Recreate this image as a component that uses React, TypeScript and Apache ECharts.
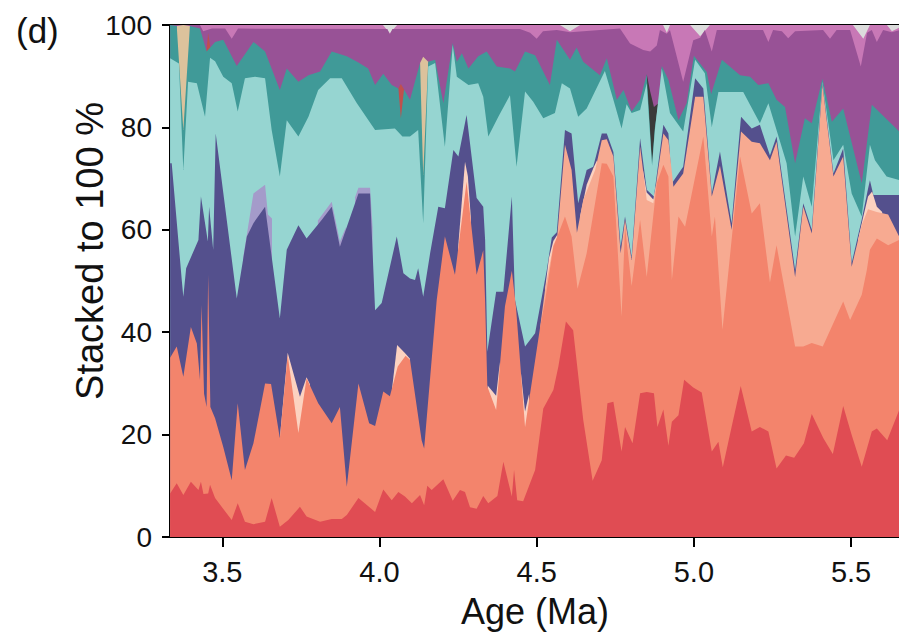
import React, { useEffect, useRef } from "react";
import * as echarts from "echarts";

const AGE_MIN = 3.3336;
const AGE_MAX = 5.6525;
const xTicks = [3.5, 4.0, 4.5, 5.0, 5.5];
const FONT = "Liberation Sans, Arial, Helvetica, sans-serif";

// Cumulative tops (percent) of each stacked layer: [age (Ma), %]
const redTop = [[3.334,8.5],[3.355,10.5],[3.376,8.2],[3.400,10.8],[3.424,9.2],[3.432,10.8],[3.440,8.4],[3.455,8.5],[3.461,10.2],[3.477,7.6],[3.530,3.3],[3.549,6.6],[3.572,3.0],[3.599,2.5],[3.636,3.0],[3.657,7.6],[3.683,2.0],[3.710,3.3],[3.747,5.9],[3.768,4.0],[3.811,3.0],[3.848,3.5],[3.880,3.5],[3.896,4.3],[3.933,7.6],[3.986,4.9],[4.012,9.3],[4.039,7.2],[4.060,8.8],[4.081,7.9],[4.103,6.6],[4.129,8.2],[4.142,6.2],[4.152,10.0],[4.166,9.2],[4.203,11.3],[4.233,7.1],[4.256,9.2],[4.272,8.8],[4.288,5.8],[4.309,5.5],[4.330,8.0],[4.346,6.6],[4.375,8.0],[4.394,14.7],[4.421,7.9],[4.428,13.1],[4.438,7.2],[4.457,7.0],[4.495,13.1],[4.521,25.1],[4.553,28.7],[4.569,33.3],[4.593,42.1],[4.616,40.4],[4.648,22.9],[4.678,11.0],[4.707,15.0],[4.725,26.1],[4.744,26.4],[4.770,16.7],[4.781,21.5],[4.805,18.3],[4.829,28.1],[4.850,28.3],[4.873,28.1],[4.884,21.5],[4.903,24.9],[4.919,17.8],[4.930,22.5],[4.951,23.8],[4.969,30.7],[4.998,29.2],[5.025,28.2],[5.057,16.7],[5.078,18.6],[5.092,13.6],[5.120,21.5],[5.149,29.5],[5.184,20.6],[5.210,21.5],[5.237,20.6],[5.263,13.4],[5.293,15.9],[5.319,15.5],[5.350,18.3],[5.375,24.0],[5.412,19.3],[5.442,16.2],[5.475,25.6],[5.502,19.9],[5.534,13.7],[5.566,20.6],[5.582,21.2],[5.615,18.9],[5.653,24.8]];

const salmonTop = [[3.334,35.0],[3.355,37.2],[3.376,31.3],[3.400,41.0],[3.419,37.8],[3.429,30.7],[3.434,45.3],[3.442,28.0],[3.450,25.4],[3.455,51.2],[3.462,25.4],[3.477,23.2],[3.503,17.6],[3.530,11.1],[3.549,26.1],[3.572,13.1],[3.599,18.3],[3.636,30.0],[3.655,29.9],[3.683,19.3],[3.708,35.5],[3.742,20.3],[3.768,31.0],[3.805,26.1],[3.848,22.2],[3.874,25.4],[3.896,9.8],[3.933,30.0],[3.967,22.2],[3.986,21.7],[4.012,28.4],[4.033,27.5],[4.058,33.3],[4.083,35.4],[4.097,34.6],[4.134,18.9],[4.142,17.3],[4.182,46.3],[4.208,58.7],[4.240,51.2],[4.277,69.4],[4.309,51.2],[4.330,56.0],[4.336,46.0],[4.343,29.4],[4.371,24.8],[4.399,45.0],[4.421,52.0],[4.434,45.0],[4.463,21.5],[4.511,41.0],[4.527,46.3],[4.553,56.7],[4.590,62.6],[4.611,58.7],[4.630,48.5],[4.659,55.4],[4.707,73.0],[4.723,72.9],[4.744,70.4],[4.770,43.0],[4.781,60.6],[4.802,49.0],[4.829,61.9],[4.850,50.8],[4.882,69.1],[4.903,72.7],[4.919,70.4],[4.930,50.2],[4.951,62.6],[4.972,60.6],[5.030,78.2],[5.057,58.7],[5.067,62.6],[5.091,40.5],[5.147,74.3],[5.184,63.2],[5.210,65.2],[5.242,49.7],[5.263,57.0],[5.295,46.3],[5.322,37.2],[5.348,37.2],[5.375,37.9],[5.410,37.2],[5.475,46.0],[5.497,42.4],[5.534,47.3],[5.550,52.1],[5.560,56.1],[5.582,58.3],[5.618,57.0],[5.653,58.0]];

const lightSalmonTop = [[4.511,41.0],[4.527,48.5],[4.553,57.0],[4.565,58.5],[4.590,76.6],[4.611,71.7],[4.628,59.4],[4.648,65.8],[4.686,71.7],[4.707,77.5],[4.723,77.7],[4.744,74.3],[4.767,55.4],[4.781,61.9],[4.802,54.1],[4.829,76.2],[4.850,65.8],[4.871,65.2],[4.903,78.8],[4.919,77.5],[4.935,68.4],[4.966,71.0],[5.004,86.0],[5.030,86.0],[5.057,66.5],[5.083,72.5],[5.120,60.0],[5.150,79.2],[5.184,77.2],[5.210,76.9],[5.242,73.6],[5.263,77.2],[5.322,50.8],[5.348,64.5],[5.375,59.3],[5.409,88.3],[5.444,70.4],[5.475,74.3],[5.502,52.8],[5.534,61.0],[5.554,64.0],[5.582,63.5],[5.618,63.0],[5.653,58.7]];

const peachPatches = [
  [[3.683,19.4],[3.708,36.0],[3.747,27.4],[3.768,31.2],[3.779,29.8]],
  [[4.040,29.0],[4.056,37.5],[4.083,35.8],[4.097,34.8]],
  [[4.250,56.5],[4.272,73.3],[4.281,70.5],[4.291,62.0]],
  [[4.344,29.6],[4.371,27.6],[4.383,34.2]],
  [[4.450,32.0],[4.463,24.5],[4.476,28.0]],
  [[4.527,48.6],[4.539,54.5],[4.553,57.8],[4.565,59.0]],
  [[4.638,62.6],[4.659,68.8],[4.680,72.0],[4.692,73.6]],
  [[4.838,71.7],[4.850,67.3],[4.871,65.9],[4.880,68.8]],
  [[5.522,58.0],[5.535,61.5],[5.554,66.5],[5.567,67.5],[5.582,64.5],[5.599,63.5]],
];

const indigoTop = [[3.334,73.0],[3.339,73.0],[3.371,50.2],[3.376,46.9],[3.385,52.5],[3.424,58.0],[3.432,66.5],[3.454,57.7],[3.458,64.5],[3.471,56.1],[3.479,78.8],[3.546,46.6],[3.578,58.7],[3.599,61.3],[3.636,64.5],[3.683,42.7],[3.705,56.1],[3.742,60.9],[3.768,58.3],[3.816,61.9],[3.848,64.5],[3.874,56.7],[3.933,67.1],[3.970,67.1],[3.986,44.3],[4.007,45.7],[4.055,58.7],[4.076,51.5],[4.097,50.5],[4.113,50.2],[4.123,52.5],[4.139,46.9],[4.161,55.4],[4.187,64.5],[4.208,64.2],[4.235,75.6],[4.251,74.3],[4.277,82.4],[4.309,66.2],[4.330,64.5],[4.336,58.0],[4.343,36.2],[4.371,47.9],[4.394,47.9],[4.421,66.5],[4.431,46.3],[4.463,37.2],[4.495,39.8],[4.532,52.1],[4.548,58.5],[4.564,59.5],[4.590,79.5],[4.611,78.8],[4.632,65.2],[4.659,71.7],[4.680,72.3],[4.707,78.8],[4.723,78.8],[4.744,75.2],[4.767,56.7],[4.781,62.6],[4.802,54.7],[4.829,77.9],[4.850,67.8],[4.873,66.5],[4.903,80.5],[4.919,78.8],[4.930,69.1],[4.966,72.3],[5.004,89.6],[5.030,87.6],[5.057,67.1],[5.083,75.3],[5.120,61.3],[5.150,82.1],[5.184,79.8],[5.210,80.5],[5.242,74.5],[5.263,78.2],[5.322,52.1],[5.348,65.2],[5.375,60.0],[5.409,88.6],[5.444,71.0],[5.475,75.9],[5.502,53.5],[5.534,62.0],[5.554,68.0],[5.560,69.7],[5.571,66.8],[5.653,66.8]];

const lavenderPatches = [
  [[3.566,54.5],[3.599,67.1],[3.636,68.8],[3.645,63.0],[3.658,62.2]],
  [[3.804,61.8],[3.848,65.5],[3.874,57.7],[3.893,60.5]],
  [[3.922,66.3],[3.933,68.2],[3.970,68.2],[3.978,60.5]],
];

const cyanTop = [[3.334,93.5],[3.362,92.5],[3.376,71.7],[3.391,88.9],[3.419,88.6],[3.445,82.1],[3.461,93.6],[3.477,92.9],[3.503,89.9],[3.530,88.6],[3.549,83.1],[3.572,89.6],[3.604,89.9],[3.636,89.6],[3.657,79.5],[3.683,70.4],[3.705,81.4],[3.742,78.2],[3.774,82.1],[3.805,87.3],[3.843,89.6],[3.880,89.6],[3.928,84.7],[3.986,79.5],[4.049,79.8],[4.073,78.2],[4.097,78.2],[4.123,79.5],[4.139,61.3],[4.155,91.9],[4.177,92.6],[4.208,76.2],[4.233,96.1],[4.246,89.9],[4.283,88.3],[4.314,88.6],[4.330,86.0],[4.346,78.2],[4.378,82.1],[4.415,86.3],[4.436,72.3],[4.463,87.0],[4.489,85.0],[4.521,81.8],[4.558,82.8],[4.580,88.6],[4.606,87.6],[4.632,82.1],[4.659,83.7],[4.717,91.0],[4.744,85.4],[4.770,79.8],[4.786,84.5],[4.802,82.8],[4.829,83.4],[4.850,88.6],[4.867,72.5],[4.876,79.5],[4.898,91.5],[4.924,82.8],[4.966,79.2],[5.004,93.2],[5.035,90.6],[5.057,80.1],[5.078,86.9],[5.126,86.9],[5.157,86.9],[5.210,80.8],[5.237,84.7],[5.263,79.5],[5.295,73.0],[5.322,58.7],[5.348,70.4],[5.375,64.5],[5.409,88.9],[5.444,73.6],[5.475,76.6],[5.502,67.1],[5.534,62.6],[5.560,76.6],[5.576,73.6],[5.613,70.4],[5.653,69.7]];

const tealTop = [[3.334,100],[3.355,99.8],[3.376,79.5],[3.397,99.8],[3.429,99.3],[3.450,94.8],[3.477,96.7],[3.503,97.1],[3.546,92.0],[3.599,96.7],[3.636,94.8],[3.683,87.3],[3.705,91.5],[3.742,88.9],[3.774,90.2],[3.811,90.9],[3.848,94.8],[3.896,93.9],[3.933,92.7],[3.964,91.5],[3.986,88.3],[4.012,90.5],[4.039,88.3],[4.060,87.6],[4.068,81.8],[4.078,87.4],[4.097,85.4],[4.129,92.6],[4.139,70.7],[4.155,92.8],[4.177,93.2],[4.203,84.7],[4.233,96.5],[4.246,92.8],[4.262,94.5],[4.283,91.5],[4.314,93.9],[4.341,94.8],[4.373,91.9],[4.415,91.5],[4.431,90.9],[4.463,94.8],[4.495,94.1],[4.542,88.3],[4.564,97.1],[4.606,93.2],[4.627,95.6],[4.648,92.8],[4.701,90.2],[4.723,93.5],[4.755,85.4],[4.776,87.3],[4.802,83.1],[4.829,85.4],[4.850,90.4],[4.867,73.0],[4.876,80.0],[4.887,84.7],[4.898,92.0],[4.919,89.3],[4.951,81.4],[4.977,84.7],[5.000,94.0],[5.041,90.8],[5.055,86.5],[5.089,93.2],[5.147,90.2],[5.179,89.9],[5.205,88.3],[5.237,88.6],[5.263,85.4],[5.290,84.0],[5.322,73.0],[5.353,81.8],[5.375,80.8],[5.409,89.5],[5.439,81.1],[5.475,83.7],[5.534,69.1],[5.566,84.4],[5.653,79.2]];

const tanPatches = [
  [[3.355,99.8],[3.376,100],[3.397,99.8]],
  [[4.129,92.6],[4.139,93.8],[4.155,92.8]],
];
const darkRedPatches = [
  [[3.450,95.0],[3.455,98.5],[3.462,95.5]],
  [[4.060,87.6],[4.068,88.5],[4.078,87.4]],
];
const charcoalPatches = [
  [[4.850,90.4],[4.861,87.0],[4.873,84.0],[4.887,84.7]],
];

const purpleTop = [[3.334,100],[3.429,100],[3.439,98.8],[3.467,99.3],[3.509,99.3],[3.530,97.3],[3.550,99.3],[4.025,99.2],[4.033,98.2],[4.041,99.2],[4.447,99.2],[4.479,98.5],[4.500,97.3],[4.520,98.8],[4.564,99.0],[4.606,98.6],[4.765,99.3],[4.797,96.4],[4.839,95.1],[4.861,94.8],[4.882,96.0],[4.892,99.0],[4.914,98.3],[4.924,99.0],[4.966,88.9],[4.998,97.0],[5.020,97.5],[5.035,99.0],[5.057,94.8],[5.073,99.0],[5.220,99.0],[5.237,96.7],[5.252,99.0],[5.280,98.8],[5.300,97.4],[5.322,98.8],[5.411,99.0],[5.433,97.3],[5.454,99.0],[5.497,99.0],[5.531,91.9],[5.551,98.5],[5.566,99.0],[5.582,96.7],[5.602,99.0],[5.630,98.6],[5.653,99.0]];

const pinkTop = [[3.334,100],[4.011,100],[4.033,98.4],[4.056,100],[4.574,100],[4.606,98.8],[4.638,100],[4.902,100],[4.914,98.5],[4.924,100],[4.988,100],[5.020,97.8],[5.051,100],[5.506,100],[5.539,97.3],[5.560,100],[5.614,100],[5.630,98.8],[5.653,99.5]];

const grayTop = [[AGE_MIN,100],[AGE_MAX,100]];

const COLORS = {
  gray: "#DCDCDC",
  pink: "#C878B6",
  purple: "#985296",
  tan: "#DCC29C",
  darkRed: "#C0504D",
  charcoal: "#3A3A3A",
  teal: "#409A98",
  cyan: "#96D5D1",
  lavender: "#A49BCA",
  indigo: "#54508D",
  peach: "#FCD2C0",
  lightSalmon: "#F7AA91",
  salmon: "#F3846C",
  red: "#E04C53",
};

function band(name: string, data: number[][], color: string) {
  return {
    type: "line",
    name,
    data,
    symbol: "none",
    showSymbol: false,
    smooth: false,
    silent: true,
    clip: true,
    lineStyle: { width: 0, opacity: 0 },
    areaStyle: { color, opacity: 1, origin: "start" },
    emphasis: { disabled: true },
  };
}

export default function App() {
  const ref = useRef<HTMLDivElement>(null);
  useEffect(() => {
    if (!ref.current) return;
    const chart = echarts.init(ref.current, null, { renderer: "svg" });
    const series: any[] = [
      band("gray", grayTop, COLORS.gray),
      band("pink", pinkTop, COLORS.pink),
      band("purple", purpleTop, COLORS.purple),
      ...tanPatches.map((p, i) => band("tan" + i, p, COLORS.tan)),
      ...darkRedPatches.map((p, i) => band("darkRed" + i, p, COLORS.darkRed)),
      ...charcoalPatches.map((p, i) => band("charcoal" + i, p, COLORS.charcoal)),
      band("teal", tealTop, COLORS.teal),
      band("cyan", cyanTop, COLORS.cyan),
      ...lavenderPatches.map((p, i) => band("lavender" + i, p, COLORS.lavender)),
      band("indigo", indigoTop, COLORS.indigo),
      ...peachPatches.map((p, i) => band("peach" + i, p, COLORS.peach)),
      band("lightSalmon", lightSalmonTop, COLORS.lightSalmon),
      band("salmon", salmonTop, COLORS.salmon),
      band("red", redTop, COLORS.red),
    ];
    chart.setOption({
      animation: false,
      backgroundColor: "#ffffff",
      grid: { left: 170, right: 0, top: 25, bottom: 102, containLabel: false },
      xAxis: [
        {
          type: "value",
          min: AGE_MIN,
          max: AGE_MAX,
          position: "bottom",
          axisLine: { show: true, onZero: false, lineStyle: { color: "#000", width: 2 } },
          axisTick: { show: true, length: 10, customValues: xTicks, lineStyle: { color: "#000", width: 2 } },
          axisLabel: {
            customValues: xTicks,
            formatter: (v: number) => v.toFixed(1),
            fontSize: 29,
            color: "#111",
            margin: 20,
            fontFamily: FONT,
          },
          splitLine: { show: false },
        },
        {
          type: "value",
          min: AGE_MIN,
          max: AGE_MAX,
          position: "top",
          axisLine: { show: true, onZero: false, lineStyle: { color: "#000", width: 2 } },
          axisTick: { show: false },
          axisLabel: { show: false },
          splitLine: { show: false },
        },
      ],
      yAxis: {
        type: "value",
        min: 0,
        max: 100,
        interval: 20,
        axisLine: { show: true, lineStyle: { color: "#000", width: 2 } },
        axisTick: { show: true, length: 8, lineStyle: { color: "#000", width: 2 } },
        axisLabel: { fontSize: 28, color: "#111", margin: 18, fontFamily: FONT },
        splitLine: { show: false },
      },
      graphic: [
        {
          type: "text",
          x: 16,
          y: 30,
          style: { text: "(d)", fontSize: 35, fontFamily: FONT, fill: "#111", textAlign: "left", textVerticalAlign: "middle", align: "left", verticalAlign: "middle" },
        },
        {
          type: "text",
          x: 535,
          y: 611,
          style: { text: "Age (Ma)", fontSize: 36, fontFamily: FONT, fill: "#111", textAlign: "center", textVerticalAlign: "middle", align: "center", verticalAlign: "middle" },
        },
        {
          type: "text",
          x: 90,
          y: 251,
          rotation: Math.PI / 2,
          style: { text: "Stacked to 100 %", fontSize: 38, fontFamily: FONT, fill: "#111", textAlign: "center", textVerticalAlign: "middle", align: "center", verticalAlign: "middle" },
        },
      ],
      series,
    });
    return () => chart.dispose();
  }, []);
  return <div ref={ref} style={{ position: "fixed", left: 0, top: 0, width: 899, height: 639 }} />;
}
